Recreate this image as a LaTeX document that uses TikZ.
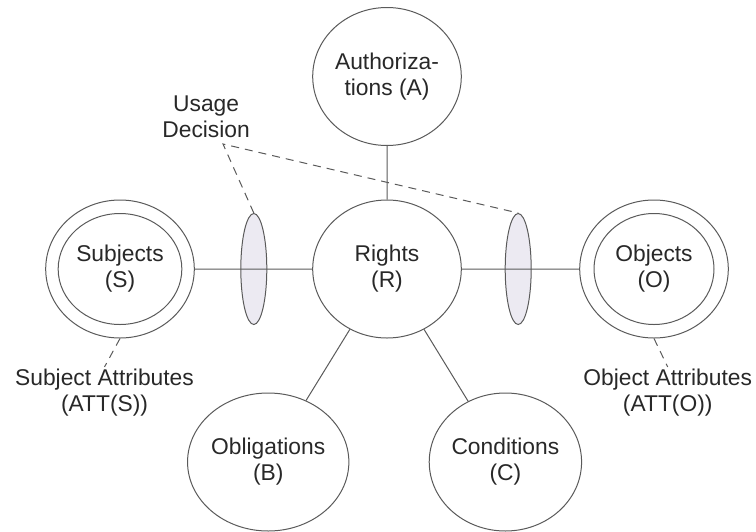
\documentclass[tikz,border=0pt]{standalone}
\usepackage{fontspec}
\setmainfont{Liberation Sans}
\usetikzlibrary{shapes.geometric, positioning}
\definecolor{linegray}{RGB}{90,90,90}
\definecolor{textgray}{RGB}{40,40,40}
\definecolor{udfill}{RGB}{236,234,242}
\tikzset{
	every node/.style={font=\fontsize{11.4}{13}\selectfont, text=textgray},
	entity/.style={ellipse, draw=linegray, line width=0.5pt, minimum width=74.3pt, minimum height=69pt, inner sep=0pt, align=center},
	core/.style={entity, minimum width=60pt, minimum height=55.5pt},
	decision/.style={ellipse, draw=linegray, fill=udfill, line width=0.5pt, minimum width=13pt, minimum height=55.5pt, inner sep=0pt},
	attr/.style={align=center, inner sep=1pt},
	link/.style={draw=linegray, line width=0.5pt},
	hint/.style={link, dash pattern=on 4pt off 3pt}}

\begin{document}
\begin{tikzpicture}[x=0.5pt, y=-0.5pt]
		\useasboundingbox (0,0) rectangle (756,531);
		\node[entity] (rights) at (387,269) {Rights\\(R)};
		\node[entity, above of=rights, node distance=96.25pt] (auth) {Authoriza-\\tions (A)};
		\node[core, left of=rights, node distance=133.5pt] (subj) {Subjects\\(S)};
		\node[entity] (subjring) at (subj) {};
		\node[core, right of=rights, node distance=133.5pt] (obj) {Objects\\(O)};
		\node[entity] (objring) at (obj) {};
		\node[decision, left of=rights, node distance=66.6pt] (lell) {};
		\node[decision, right of=rights, node distance=65.6pt] (rell) {};
		\node[entity, below of=rights, node distance=96.5pt, xshift=-59.4pt] (oblig) {Obligations\\(B)};
		\node[entity, below of=rights, node distance=96.5pt, xshift=59.2pt] (cond) {Conditions\\(C)};
		\node[attr, below of=subj, node distance=62pt, xshift=-7.75pt] (subjatt) {Subject Attributes\\(ATT(S))};
		\node[attr, below of=obj, node distance=62pt, xshift=6.85pt] (objatt) {Object Attributes\\(ATT(O))};
		\node[attr, above of=lell, node distance=76pt, xshift=-23.85pt] (usage) {Usage\\Decision};
		\coordinate (ud) at (223,144);

		\draw[link]
		(subjring) -- (rights)
		(rights) -- (objring)
		(auth) -- (rights)
		(rights) -- (oblig)
		(rights) -- (cond)
		;
		\draw[hint]
		(subjring.south) -- (subjatt.north)
		(objring.south) -- (objatt.north)
		(lell.north) -- (ud) -- (rell.north)
		;
	\end{tikzpicture}
\end{document}
